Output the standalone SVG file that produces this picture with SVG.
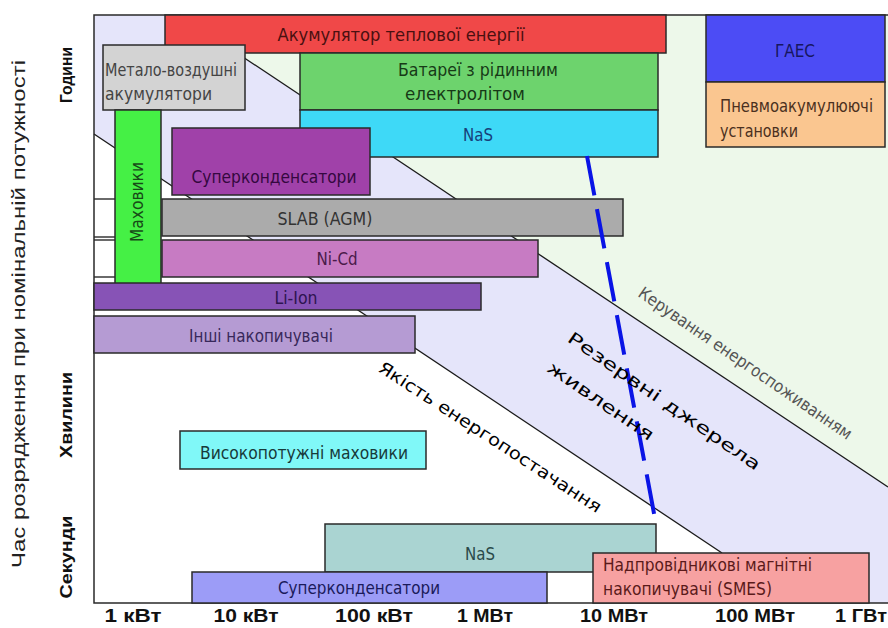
<svg xmlns="http://www.w3.org/2000/svg" width="888" height="628" viewBox="0 0 888 628">
<style>
.box{stroke:#2a2a2a;stroke-width:1.5}
.lbl{font-family:"Liberation Sans Narrow","DejaVu Sans Condensed","Liberation Sans",sans-serif;font-size:17px}
.tick{font-family:"Liberation Sans Narrow","Liberation Sans",sans-serif;font-size:18px;font-weight:bold;fill:#111;text-anchor:middle}
.ax{font-family:"Liberation Sans",Arial,sans-serif;font-weight:bold;font-size:17px;fill:#111;text-anchor:middle}
.diag{stroke:#1a1a1a;stroke-width:1.3;fill:none}
</style>
<rect width="888" height="628" fill="#ffffff"/>
<g id="background">
<polygon points="94,15 180,15 888,487 888,603 797,603 94,134" fill="#E5E5FA"/>
<polygon points="180,15 888,15 888,487" fill="#EDF8EA"/>
</g>
<g id="connectors">
<line class="diag" x1="180" y1="15" x2="888" y2="487"/>
<line class="diag" x1="94" y1="134" x2="722" y2="553"/>
<line class="diag" x1="94" y1="199" x2="116" y2="199"/>
<line class="diag" x1="94" y1="237" x2="116" y2="237"/>
<line class="diag" x1="94" y1="240" x2="116" y2="240"/>
<line class="diag" x1="94" y1="277" x2="116" y2="277"/>
</g>
<g id="frame">
<polyline points="888,15 94,15 94,603 888,603" fill="none" stroke="#2a2a2a" stroke-width="1.5"/>
</g>
<g id="n-thermal"><rect class="box" x="165" y="15" width="501" height="38" fill="#F04848"/>
<text class="lbl" x="401" y="41" text-anchor="middle" fill="#4a1010" textLength="247" lengthAdjust="spacingAndGlyphs">Акумулятор теплової енергії</text></g>
<g id="n-metalair"><rect class="box" x="103" y="45" width="142" height="65" fill="#D3D3D3"/>
<text class="lbl" x="105" y="76" fill="#444" textLength="132" lengthAdjust="spacingAndGlyphs">Метало-воздушні</text>
<text class="lbl" x="105" y="100" fill="#444" textLength="107" lengthAdjust="spacingAndGlyphs">акумулятори</text></g>
<g id="n-flow"><rect class="box" x="300" y="53" width="358" height="57" fill="#6DD36D"/>
<text class="lbl" x="398" y="76" fill="#173a17" textLength="160" lengthAdjust="spacingAndGlyphs">Батареї з рідинним</text>
<text class="lbl" x="405" y="100" fill="#173a17" textLength="120" lengthAdjust="spacingAndGlyphs">електролітом</text></g>
<g id="n-nas-top"><rect class="box" x="300" y="110" width="358" height="47" fill="#3ED9F7"/>
<text class="lbl" x="478" y="141" text-anchor="middle" fill="#17407a" textLength="30" lengthAdjust="spacingAndGlyphs">NaS</text></g>
<g id="n-phs"><rect class="box" x="706" y="15" width="179" height="67" fill="#4C4CF5"/>
<text class="lbl" x="795" y="57" text-anchor="middle" fill="#161660" textLength="40" lengthAdjust="spacingAndGlyphs">ГАЕС</text></g>
<g id="n-caes"><rect class="box" x="706" y="82" width="179" height="65" fill="#FAC690"/>
<text class="lbl" x="720" y="112" fill="#4a3020" textLength="153" lengthAdjust="spacingAndGlyphs">Пневмоакумулюючі</text>
<text class="lbl" x="720" y="137" fill="#4a3020" textLength="78" lengthAdjust="spacingAndGlyphs">установки</text></g>
<g id="n-flywheel"><rect class="box" x="115" y="110" width="46" height="180" fill="#45F045"/>
<text class="lbl" transform="translate(143,202) rotate(-90)" x="0" y="0" text-anchor="middle" fill="#174a17" textLength="80" lengthAdjust="spacingAndGlyphs">Маховики</text></g>
<g id="n-supercap-top"><rect class="box" x="172" y="128" width="198" height="67" fill="#A041A9"/>
<text class="lbl" x="274" y="183" text-anchor="middle" fill="#34083f" textLength="165" lengthAdjust="spacingAndGlyphs">Суперконденсатори</text></g>
<g id="n-slab"><rect class="box" x="162" y="199" width="461" height="37" fill="#ABABAB"/>
<text class="lbl" x="325" y="225" text-anchor="middle" fill="#333" textLength="95" lengthAdjust="spacingAndGlyphs">SLAB (AGM)</text></g>
<g id="n-nicd"><rect class="box" x="162" y="240" width="376" height="37" fill="#C77BC3"/>
<text class="lbl" x="337" y="265" text-anchor="middle" fill="#4a1a4a" textLength="41" lengthAdjust="spacingAndGlyphs">Ni-Cd</text></g>
<g id="n-liion"><rect class="box" x="94" y="283" width="387" height="27" fill="#8753B6"/>
<text class="lbl" x="296" y="304" text-anchor="middle" fill="#2e1450" textLength="43" lengthAdjust="spacingAndGlyphs">Li-Ion</text></g>
<g id="n-other"><rect class="box" x="94" y="316" width="321" height="37" fill="#B59BD3"/>
<text class="lbl" x="261" y="342" text-anchor="middle" fill="#38285a" textLength="144" lengthAdjust="spacingAndGlyphs">Інші накопичувачі</text></g>
<g id="n-hp-flywheel"><rect class="box" x="180" y="431" width="246" height="38" fill="#80F8F8"/>
<text class="lbl" x="304" y="459" text-anchor="middle" fill="#173a3a" textLength="208" lengthAdjust="spacingAndGlyphs">Високопотужні маховики</text></g>
<g id="n-nas-bottom"><rect class="box" x="325" y="524" width="331" height="48" fill="#AAD4D2"/>
<text class="lbl" x="480" y="560" text-anchor="middle" fill="#2a4a4a" textLength="30" lengthAdjust="spacingAndGlyphs">NaS</text></g>
<g id="n-supercap-bottom"><rect class="box" x="192" y="572" width="355" height="31" fill="#9C9CF7"/>
<text class="lbl" x="359" y="594" text-anchor="middle" fill="#1a1a5a" textLength="162" lengthAdjust="spacingAndGlyphs">Суперконденсатори</text></g>
<g id="n-smes"><rect class="box" x="593" y="553" width="276" height="50" fill="#F7A1A1"/>
<text class="lbl" x="603" y="571" fill="#5a1a1a" textLength="209" lengthAdjust="spacingAndGlyphs">Надпровідникові магнітні</text>
<text class="lbl" x="603" y="595" fill="#5a1a1a" textLength="169" lengthAdjust="spacingAndGlyphs">накопичувачі (SMES)</text></g>
<g id="dashed-boundary">
<line x1="587" y1="156" x2="656" y2="524" stroke="#0A14E6" stroke-width="4" stroke-dasharray="40 14"/>
</g>
<g id="region-labels">
<text class="lbl" transform="translate(742,368) rotate(34.5)" x="0" y="0" text-anchor="middle" fill="#555" font-size="15" textLength="255" lengthAdjust="spacingAndGlyphs">Керування енергоспоживанням</text>
<g transform="translate(661,406) rotate(34.5)">
<text class="lbl" x="-115" y="0" fill="#000" font-size="28" textLength="230" lengthAdjust="spacingAndGlyphs">Резервні джерела</text>
<text class="lbl" x="-115" y="36" fill="#000" font-size="28" textLength="125" lengthAdjust="spacingAndGlyphs">живлення</text>
</g>
<text class="lbl" transform="translate(487,442) rotate(33)" x="0" y="0" text-anchor="middle" fill="#000" font-size="18" textLength="262" lengthAdjust="spacingAndGlyphs">Якість енергопостачання</text>
</g>
<g id="axis-x">
<text class="tick" x="133" y="622" textLength="57" lengthAdjust="spacingAndGlyphs">1 кВт</text>
<text class="tick" x="246" y="622" textLength="65" lengthAdjust="spacingAndGlyphs">10 кВт</text>
<text class="tick" x="374" y="622" textLength="78" lengthAdjust="spacingAndGlyphs">100 кВт</text>
<text class="tick" x="485" y="622" textLength="56" lengthAdjust="spacingAndGlyphs">1 МВт</text>
<text class="tick" x="614" y="622" textLength="68" lengthAdjust="spacingAndGlyphs">10 МВт</text>
<text class="tick" x="755" y="622" textLength="80" lengthAdjust="spacingAndGlyphs">100 МВт</text>
<text class="tick" x="861" y="622" textLength="52" lengthAdjust="spacingAndGlyphs">1 ГВт</text>
</g>
<g id="axis-y">
<text transform="translate(25,314) rotate(-90)" x="0" y="0" text-anchor="middle" font-family="Liberation Sans, Arial, sans-serif" font-size="18" fill="#222" textLength="508" lengthAdjust="spacingAndGlyphs">Час розрядження при номінальній потужності</text>
<text class="ax" transform="translate(72,75) rotate(-90)" x="0" y="0" textLength="56" lengthAdjust="spacingAndGlyphs">Години</text>
<text class="ax" transform="translate(72,415) rotate(-90)" x="0" y="0" textLength="86" lengthAdjust="spacingAndGlyphs">Хвилини</text>
<text class="ax" transform="translate(72,557) rotate(-90)" x="0" y="0" textLength="83" lengthAdjust="spacingAndGlyphs">Секунди</text>
</g>
</svg>
